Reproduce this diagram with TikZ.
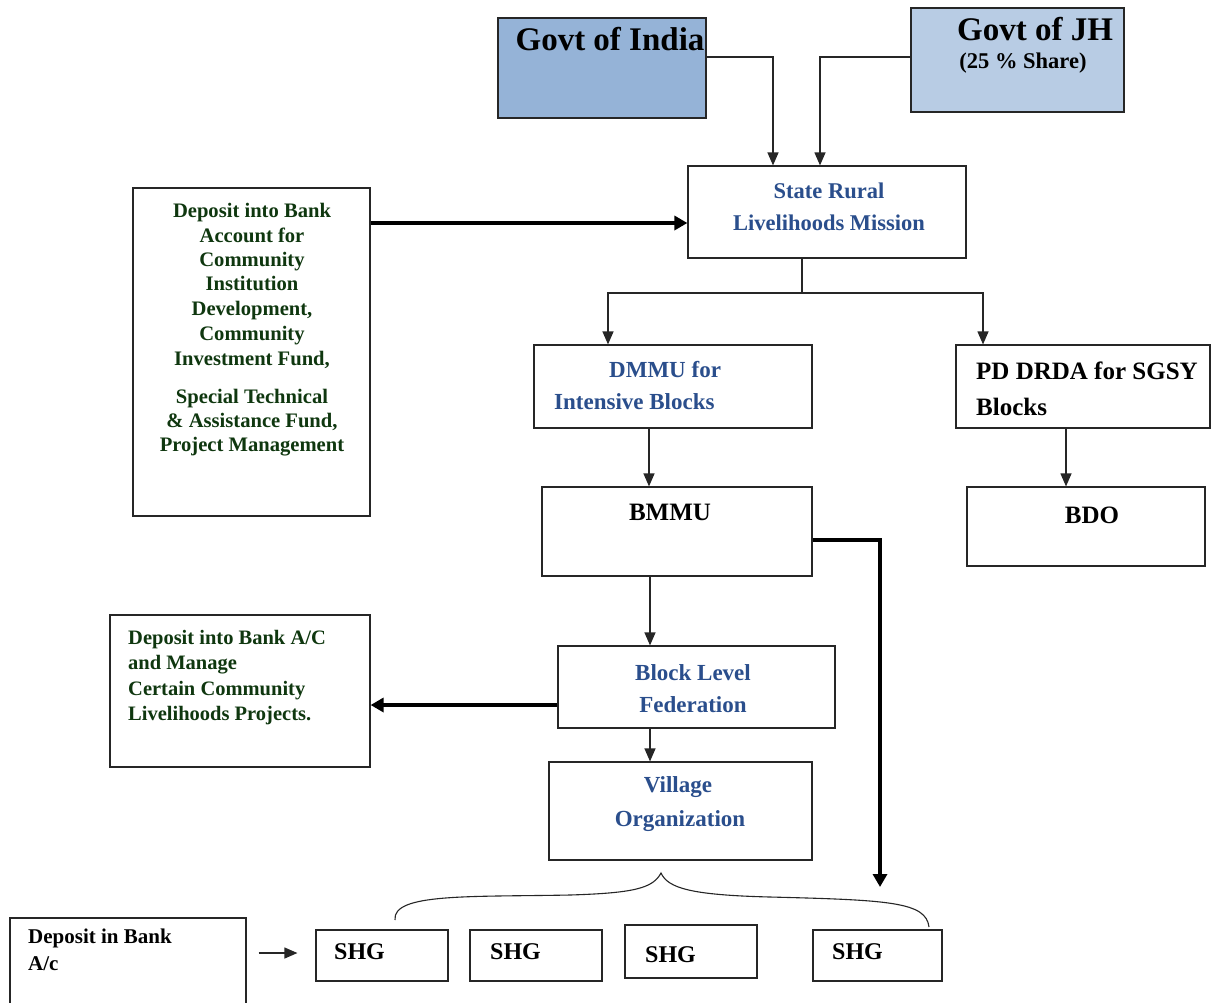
\documentclass[tikz,border=0pt]{standalone}
\usepackage{fontspec}
\setmainfont{Liberation Serif}
\usetikzlibrary{arrows.meta,calc}
\definecolor{gifill}{HTML}{95B3D7}
\definecolor{gjfill}{HTML}{B8CCE4}
\definecolor{tblue}{HTML}{2A4E8C}
\definecolor{tgreen}{HTML}{0F370F}
\definecolor{lin}{HTML}{262626}
\newcommand{\fs}[1]{\fontsize{#1}{#1}\selectfont\bfseries}
\begin{document}
\begin{tikzpicture}[x=1pt,y=-1pt,
  box/.style={draw=lin, line width=1.2pt, inner sep=0pt},
  txt/.style={inner sep=0pt, anchor=base},
  txtl/.style={inner sep=0pt, anchor=base west},
  arr/.style={draw=lin, line width=1.2pt, -{Triangle[length=13pt,width=11pt]}},
  thick arr/.style={draw=black, line width=4.5pt, -{Triangle[length=13pt,width=14pt]}},
  brace/.style={draw=lin, line width=1.1pt}]
\useasboundingbox (0,0) rectangle (1212,1002);
\fill[white] (0,0) rectangle (1212,1002);

% boxes
\node[box, fill=gifill, minimum width=208pt, minimum height=100pt] (gi) at (602,68) {};
\node[box, fill=gjfill, minimum width=213pt, minimum height=104pt] (gj) at (1017.5,60) {};
\node[box, minimum width=278pt, minimum height=92pt] (srlm) at (827,212) {};
\node[box, minimum width=237pt, minimum height=328pt] (dep1) at (251.5,352) {};
\node[box, minimum width=278pt, minimum height=83pt] (dmmu) at (673,386.5) {};
\node[box, minimum width=254pt, minimum height=83pt] (pd) at (1083,386.5) {};
\node[box, minimum width=270pt, minimum height=89pt] (bmmu) at (677,531.5) {};
\node[box, minimum width=238pt, minimum height=79pt] (bdo) at (1086,526.5) {};
\node[box, minimum width=277pt, minimum height=82pt] (blf) at (696.5,687) {};
\node[box, minimum width=260pt, minimum height=152pt] (dep2) at (240,691) {};
\node[box, minimum width=263pt, minimum height=98pt] (vo) at (680.5,811) {};
\node[box, minimum width=236pt, minimum height=96pt] (dep3) at (128,966) {};
\node[box, minimum width=132pt, minimum height=51pt] (shg1) at (382,955.5) {};
\node[box, minimum width=132pt, minimum height=51pt] (shg2) at (536,955.5) {};
\node[box, minimum width=132pt, minimum height=53pt] (shg3) at (691,951.5) {};
\node[box, minimum width=129pt, minimum height=51pt] (shg4) at (877.5,955.5) {};

% texts
\node[txt, font=\fs{33}] (tgi) at (610,50) {Govt of India};
\node[txt, font=\fs{33}] (tgj) at (1035,40) {Govt of JH};
\node[txt, font=\fs{22.5}] (tgj2) at (1023,68) {(25 \% Share)};
\node[txt, font=\fs{22.5}, text=tblue] (ts1) at (829,198) {State Rural};
\node[txt, font=\fs{22.5}, text=tblue] (ts2) at (829,230) {Livelihoods Mission};
\begin{scope}[every node/.style={txt, font=\fs{20.6}, text=tgreen}]
\node (d1) at (252,217) {Deposit into Bank};
\node (d2) at (252,242) {Account for};
\node (d3) at (252,266) {Community};
\node (d4) at (252,290) {Institution};
\node (d5) at (252,315) {Development,};
\node (d6) at (252,340) {Community};
\node (d7) at (252,365) {Investment Fund,};
\node (d8) at (252,403) {Special Technical};
\node (d9) at (252,427) {\& Assistance Fund,};
\node (d10) at (252,451) {Project Management};
\end{scope}
\begin{scope}[every node/.style={txtl, font=\fs{20.5}, text=tgreen}]
\node (e1) at (128,644) {Deposit into Bank A/C};
\node (e2) at (128,669) {and Manage};
\node (e3) at (128,695) {Certain Community};
\node (e4) at (128,720) {Livelihoods Projects.};
\end{scope}
\node[txtl, font=\fs{23}, text=tblue] (tdm1) at (609,377) {DMMU for};
\node[txtl, font=\fs{23}, text=tblue] (tdm2) at (554,409) {Intensive Blocks};
\node[txtl, font=\fs{25}] (tpd1) at (976,379) {PD DRDA for SGSY};
\node[txtl, font=\fs{25}] (tpd2) at (976,415) {Blocks};
\node[txt, font=\fs{25}] (tbm) at (670,520) {BMMU};
\node[txt, font=\fs{25}] (tbd) at (1092,523) {BDO};
\node[txt, font=\fs{23}, text=tblue] (tbl1) at (693,680) {Block Level};
\node[txt, font=\fs{23}, text=tblue] (tbl2) at (693,712) {Federation};
\node[txt, font=\fs{23}, text=tblue] (tvo1) at (678,792) {Village};
\node[txt, font=\fs{23}, text=tblue] (tvo2) at (680,826) {Organization};
\node[txtl, font=\fs{21}] (tdp1) at (28,943) {Deposit in Bank};
\node[txtl, font=\fs{21}] (tdp2) at (28,970) {A/c};
\node[txtl, font=\fs{24}] (ts1l) at (334,959) {SHG};
\node[txtl, font=\fs{24}] (ts2l) at (490,959) {SHG};
\node[txtl, font=\fs{24}] (ts3l) at (645,962) {SHG};
\node[txtl, font=\fs{24}] (ts4l) at (832,959) {SHG};

% connectors
\draw[arr] ([yshift=11pt]gi.east) -| ([xshift=-54pt]srlm.north);
\draw[arr] ([yshift=3pt]gj.west) -| ([xshift=-7pt]srlm.north);
\draw[thick arr] ([yshift=129pt]dep1.east) -- ([yshift=129pt]dep1.east -| srlm.west);
\coordinate (split) at (802,293);
\draw[draw=lin, line width=1.2pt] ([xshift=-25pt]srlm.south) -- (split);
\draw[arr] (split) -| ([xshift=-65pt]dmmu.north);
\draw[arr] (split) -| ([xshift=-100pt]pd.north);
\draw[arr] ([xshift=-24pt]dmmu.south) -- ([xshift=-24pt]dmmu.south |- bmmu.north);
\draw[arr] ([xshift=-17pt]pd.south) -- ([xshift=-17pt]pd.south |- bdo.north);
\draw[arr] ([xshift=-27pt]bmmu.south) -- ([xshift=-27pt]bmmu.south |- blf.north);
\draw[arr] ([xshift=-27pt]bmmu.south |- blf.south) -- ([xshift=-27pt]bmmu.south |- vo.north);
\coordinate (bend) at (880,887);
\draw[thick arr] ([yshift=-8.5pt]bmmu.east) -| (bend);
\draw[thick arr] ([yshift=-18pt]blf.west) -- ([yshift=-18pt]blf.west -| dep2.east);
\draw[arr] ([xshift=12pt,yshift=13pt]dep3.east) -- ([xshift=-18pt,yshift=2.5pt]shg1.west);

% brace over SHGs
\coordinate (bl) at (395,920);
\coordinate (bt) at (661,873);
\coordinate (br) at (929,927);
\draw[brace] (bl) .. controls (392,893) and (470,897) .. (570,895)
  .. controls (635,893) and (653,888) .. (bt)
  .. controls (668,888) and (690,895) .. (770,897)
  .. controls (890,900) and (926,902) .. (br);
\end{tikzpicture}
\end{document}
